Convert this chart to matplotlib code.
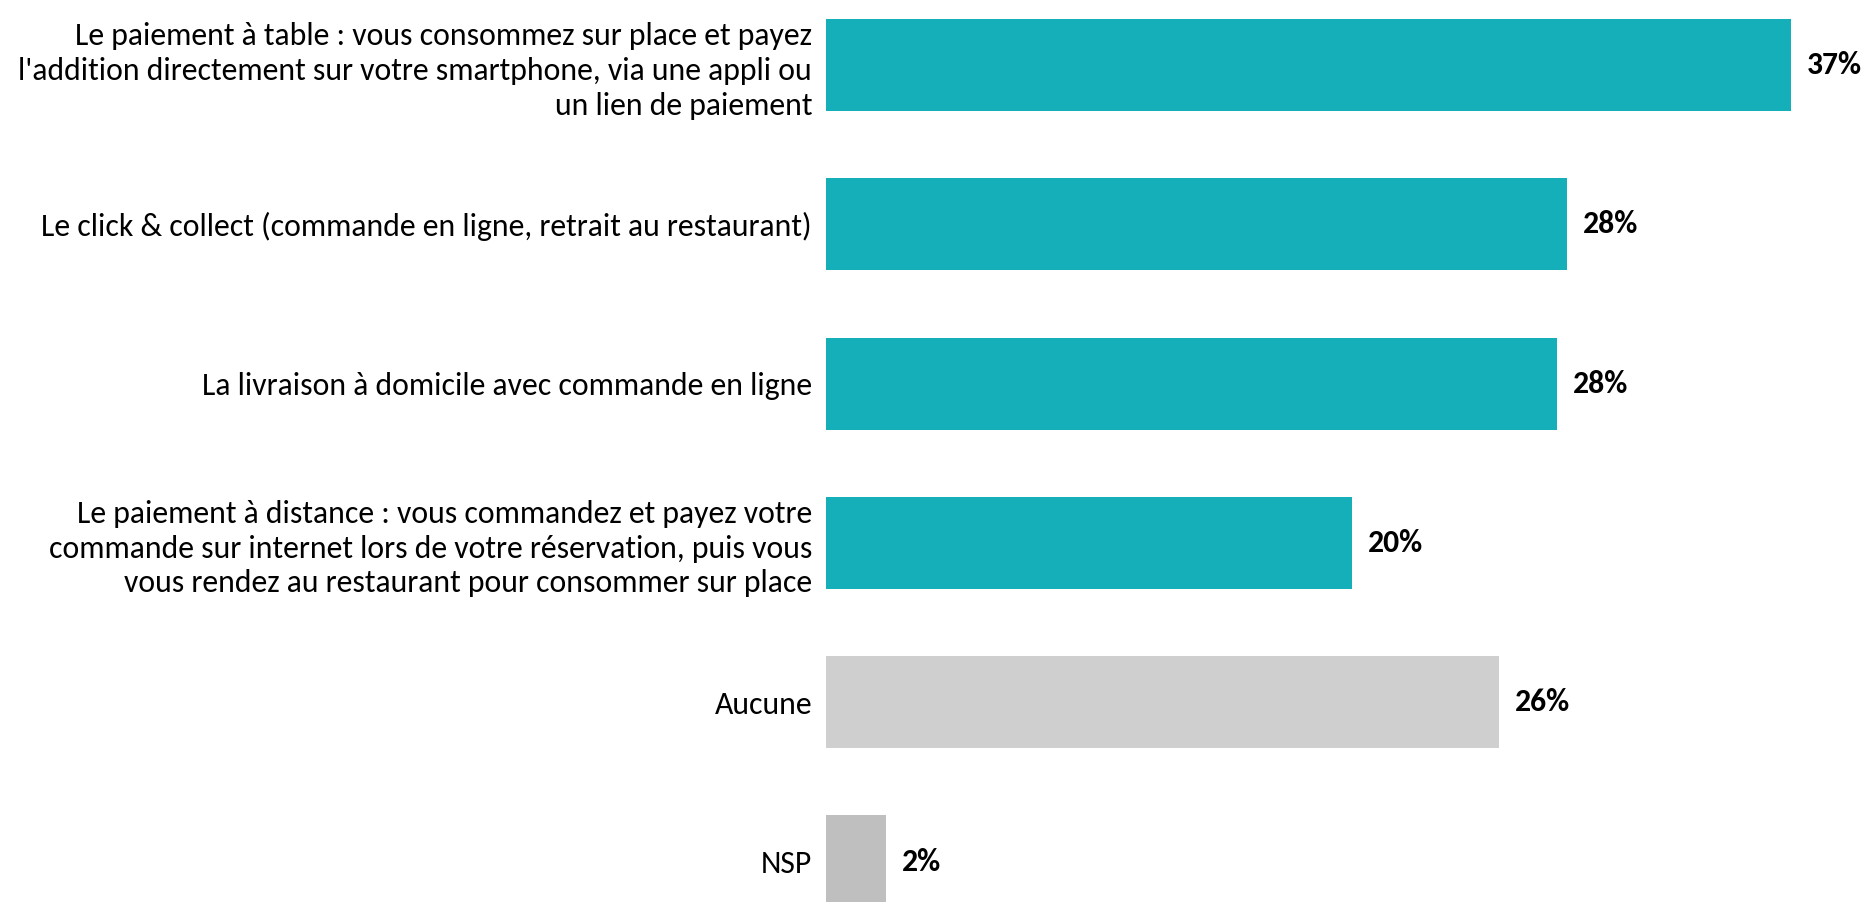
import matplotlib
matplotlib.use('Agg')
import matplotlib.pyplot as plt
from matplotlib import font_manager

# Data
categories = [
    "Le paiement à table : vous consommez sur place et payez\nl'addition directement sur votre smartphone, via une appli ou\nun lien de paiement",
    "Le click & collect (commande en ligne, retrait au restaurant)",
    "La livraison à domicile avec commande en ligne",
    "Le paiement à distance : vous commandez et payez votre\ncommande sur internet lors de votre réservation, puis vous\nvous rendez au restaurant pour consommer sur place",
    "Aucune",
    "NSP",
]
values = [36.7, 28.2, 27.8, 20.0, 25.6, 2.3]
labels = ["37%", "28%", "28%", "20%", "26%", "2%"]
colors = ["#14AFB8", "#14AFB8", "#14AFB8", "#14AFB8", "#D0CFD0", "#BFBFBF"]

# pick a narrow font if one is installed (the original uses Calibri)
installed = {f.name for f in font_manager.fontManager.ttflist}
family = "DejaVu Sans"
for name in ["Carlito", "Liberation Sans Narrow", "Open Sans", "Liberation Sans"]:
    if name in installed:
        family = name
        break
plt.rcParams['font.family'] = [family, 'DejaVu Sans']

fig = plt.figure(figsize=(18.67, 9.02), dpi=100)
ax = fig.add_axes([0.4424, 0, 0.5576, 1])

ypos = list(range(len(categories)))
ax.barh(ypos, values, height=0.578, color=colors)

for y, v, lab in zip(ypos, values, labels):
    ax.text(v + 0.6, y, lab, va='center', ha='left', fontsize=22.8,
            fontweight='bold', color='black')

ax.set_xlim(0, 39.6)
ax.set_ylim(5.254, -0.408)
ax.set_yticks(ypos)
ax.set_yticklabels(categories, fontsize=22.9, linespacing=1.29, ha='right')
ax.tick_params(axis='y', length=0, pad=10)
ax.set_xticks([])
for s in ax.spines.values():
    s.set_visible(False)

fig.savefig('out.png', dpi=100)
